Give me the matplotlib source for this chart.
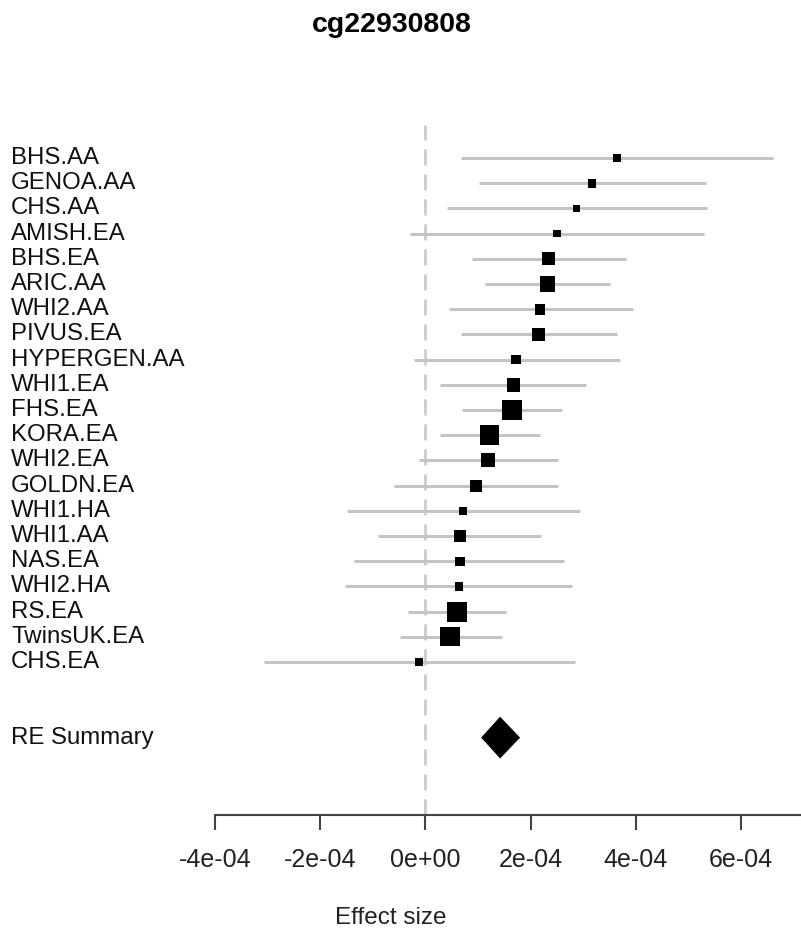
import numpy as np
import matplotlib
matplotlib.use("Agg")
import matplotlib.pyplot as plt
import matplotlib.transforms as mtransforms

plt.rcParams['font.family'] = ['Liberation Sans', 'DejaVu Sans']

# studies, top to bottom
studies = ["BHS.AA", "GENOA.AA", "CHS.AA", "AMISH.EA", "BHS.EA", "ARIC.AA",
           "WHI2.AA", "PIVUS.EA", "HYPERGEN.AA", "WHI1.EA", "FHS.EA", "KORA.EA",
           "WHI2.EA", "GOLDN.EA", "WHI1.HA", "WHI1.AA", "NAS.EA", "WHI2.HA",
           "RS.EA", "TwinsUK.EA", "CHS.EA"]
# effect estimates and 95% CI (units of 1e-4)
est = np.array([3.64, 3.17, 2.87, 2.50, 2.34, 2.32, 2.18, 2.15, 1.72, 1.67, 1.64,
                1.22, 1.19, 0.97, 0.71, 0.66, 0.66, 0.64, 0.60, 0.47, -0.12]) * 1e-4
lo = np.array([0.68, 1.02, 0.41, -0.30, 0.89, 1.13, 0.44, 0.68, -0.22, 0.28, 0.70,
               0.28, -0.13, -0.60, -1.50, -0.90, -1.35, -1.53, -0.33, -0.49, -3.07]) * 1e-4
hi = np.array([6.60, 5.33, 5.36, 5.30, 3.81, 3.51, 3.94, 3.64, 3.70, 3.06, 2.59,
               2.17, 2.52, 2.53, 2.93, 2.20, 2.64, 2.79, 1.54, 1.45, 2.84]) * 1e-4

# random-effects summary
summary_label = "RE Summary"
sum_est, sum_lo, sum_hi = 1.42e-4, 1.06e-4, 1.80e-4

xticks = [-4e-4, -2e-4, 0, 2e-4, 4e-4, 6e-4]
xticklabels = ["-4e-04", "-2e-04", "0e+00", "2e-04", "4e-04", "6e-04"]

W, H = 801, 931
fig = plt.figure(figsize=(W / 100, H / 100), dpi=100)
ax = fig.add_axes([215 / W, (H - 815) / H, 1 - 215 / W, (815 - 125) / H])

px_per_unit = 105.2 / 2e-4
row_px = 25.2
ax.set_xlim(-4e-4, -4e-4 + (W - 215) / px_per_unit)
ax.set_ylim((815 - 158) / row_px, (125 - 158) / row_px)

y = np.arange(len(studies))
sum_y = 23

# null line
ax.axvline(0, color="#cccccc", lw=2, linestyle=(0, (5.8, 3.2)), zorder=1)

# confidence intervals
ax.hlines(y, lo, hi, color="#c4c4c4", lw=2.2, zorder=2)

# boxes sized by inverse standard error
se = (hi - lo) / (2 * 1.96)
w = 1 / se
side_px = np.maximum(20 * w / w.max(), 7.5)
ax.scatter(est, y, marker="s", s=(side_px * 0.72) ** 2, color="black",
           linewidths=0, zorder=3)

# summary diamond
dh = 0.83
ax.fill([sum_lo, sum_est, sum_hi, sum_est], [sum_y, sum_y - dh, sum_y, sum_y + dh],
        color="black", zorder=3, lw=0)

# labels on the left
trans = mtransforms.blended_transform_factory(fig.transFigure, ax.transData)
for yy, name in zip(y, studies):
    ax.text(11 / W, yy, name, transform=trans, ha="left", va="center",
            fontsize=17.3, color="#111111")
ax.text(11 / W, sum_y, summary_label, transform=trans, ha="left", va="center",
        fontsize=17.3, color="#111111")

# axis
for s in ["left", "top", "right"]:
    ax.spines[s].set_visible(False)
ax.spines["bottom"].set_color("#444444")
ax.spines["bottom"].set_linewidth(1.5)
ax.set_yticks([])
ax.set_xticks(xticks, [""] * len(xticks))
ax.tick_params(axis="x", length=10.8, width=1.5, color="#444444")
ttrans = mtransforms.blended_transform_factory(ax.transData, fig.transFigure)
for xv, lab in zip(xticks, xticklabels):
    ax.text(xv, 1 - 867 / H, lab, transform=ttrans, ha="center", va="baseline",
            fontsize=18, color="#222222", clip_on=False)

fig.text(392 / W, 1 - 32 / H, "cg22930808", ha="center", va="baseline",
         fontsize=20.5, fontweight="bold")
fig.text(391 / W, 1 - 924 / H, "Effect size", ha="center", va="baseline",
         fontsize=17.5, color="#222222")

fig.savefig("out.png", dpi=100)
